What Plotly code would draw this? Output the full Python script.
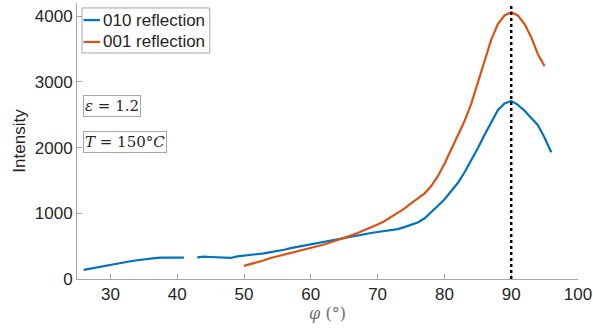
import plotly.graph_objects as go

# Azimuthal scans of the two reflections
phi_010 = list(range(26, 97))
int_010 = [140, 160, 180, 200, 220, 240, 255, 270, 285, 300, 315, 322, 325, 326, 330, 325,
           None,
           330, 340, 335, 332, 330, 320, 345, 355, 365, 375, 390, 410, 425, 445, 470, 490,
           500, 520, 540, 565, 590, 610, 630, 650, 665, 680, 700, 715, 730, 750, 760, 790,
           830, 860, 920, 1010, 1110, 1210, 1330, 1460, 1620, 1800, 1990, 2190, 2390, 2570,
           2670, 2710, 2650, 2560, 2450, 2340, 2150, 1930]

phi_001 = list(range(50, 96))
int_001 = [200, 225, 255, 285, 320, 345, 370, 390, 415, 440, 465, 500, 525, 560, 590, 620,
           660, 700, 740, 790, 830, 880, 940, 1000, 1070, 1150, 1220, 1300, 1410, 1560, 1750,
           1960, 2170, 2400, 2660, 2980, 3330, 3640, 3880, 4010, 4060, 4010, 3880, 3680,
           3420, 3240]

series_names = ["010 reflection", "001 reflection"]
peak_phi = 90
x_ticks = [30, 40, 50, 60, 70, 80, 90, 100]
y_ticks = [0, 1000, 2000, 3000, 4000]

BLUE = "#0072BD"
ORANGE = "#D95319"
AXIS = "#a6a6a6"
TEXT = "#262626"
SANS = "Liberation Sans, Arial, sans-serif"
SERIF = "DejaVu Serif, Liberation Serif, serif"

fig = go.Figure()
fig.add_trace(go.Scatter(x=phi_010, y=int_010, mode="lines", name=series_names[0],
                         line=dict(color=BLUE, width=2.2), connectgaps=False))
fig.add_trace(go.Scatter(x=phi_001, y=int_001, mode="lines", name=series_names[1],
                         line=dict(color=ORANGE, width=2.2)))

# vertical marker at the peak position
fig.add_shape(type="line", xref="x", yref="paper", x0=peak_phi, x1=peak_phi, y0=0, y1=1,
              line=dict(color="black", width=2.5, dash="dot"))

# compact legend box with short line samples
fig.add_shape(type="rect", xref="paper", yref="paper", x0=0.010, x1=0.265, y0=0.819, y1=0.982,
              line=dict(color=AXIS, width=1), fillcolor="white", layer="above")
for name, color, yy in zip(series_names, [BLUE, ORANGE], [0.938, 0.859]):
    fig.add_shape(type="line", xref="paper", yref="paper", x0=0.013, x1=0.046, y0=yy, y1=yy,
                  line=dict(color=color, width=2.2), layer="above")
    fig.add_annotation(x=0.047, y=yy, xref="paper", yref="paper", text=name,
                       showarrow=False, xanchor="left", yanchor="middle",
                       font=dict(family=SANS, size=17, color=TEXT))

box = dict(bordercolor=AXIS, borderwidth=1, bgcolor="white", borderpad=1,
           showarrow=False, xref="paper", yref="y", xanchor="left",
           font=dict(family=SERIF, size=15, color=TEXT))
fig.add_annotation(x=0.011, y=2630, text="<i>ε</i> = 1.2", **box)
fig.add_annotation(x=0.011, y=2090, text="<i>T</i> = 150°<i>C</i>", **box)

fig.update_layout(
    width=593, height=333,
    margin=dict(l=77, r=15, t=3, b=54),
    plot_bgcolor="white", paper_bgcolor="white",
    font=dict(family=SANS, size=17, color=TEXT),
    showlegend=False,
    xaxis=dict(range=[25, 100], tickvals=x_ticks, showgrid=False, zeroline=False,
               showline=True, linecolor=AXIS, linewidth=1, ticks="inside", ticklen=5,
               tickcolor=AXIS, tickfont=dict(size=17, color=TEXT), automargin=False,
               title=dict(text="<i>φ</i> (°)", standoff=2,
                          font=dict(family=SERIF, size=16, color="#6e6e6e"))),
    yaxis=dict(range=[0, 4200], tickvals=y_ticks, showgrid=False, zeroline=False,
               showline=True, linecolor=AXIS, linewidth=1, ticks="inside", ticklen=5,
               tickcolor=AXIS, tickfont=dict(size=17, color=TEXT), automargin=False,
               title=dict(text="Intensity", standoff=4, font=dict(size=17, color=TEXT))),
)

fig.write_html("out.html")
